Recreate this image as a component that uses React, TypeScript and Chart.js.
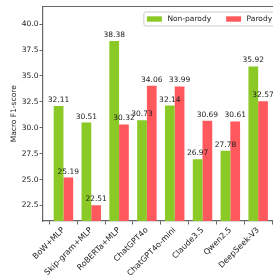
import React, { useEffect, useRef } from "react";
import { Chart, registerables } from "chart.js";

Chart.register(...registerables);

const categories = [
  "BoW+MLP",
  "Skip-gram+MLP",
  "RoBERTa+MLP",
  "ChatGPT4o",
  "ChatGPT4o-mini",
  "Claude3.5",
  "Qwen2.5",
  "DeepSeek-V3",
];
const nonParody = [32.11, 30.51, 38.38, 30.73, 32.14, 26.97, 27.78, 35.92];
const parody = [25.19, 22.51, 30.32, 34.06, 33.99, 30.69, 30.61, 32.57];
const yTicks = [22.5, 25.0, 27.5, 30.0, 32.5, 35.0, 37.5, 40.0];
const yMin = 21.0;
const yMax = 41.71;
const xMin = -0.735;
const xMax = 7.735;

const FONT = "DejaVu Sans";
const SPINE = "#666666";
const TEXT = "#222222";

const valueLabels = {
  id: "valueLabels",
  afterDatasetsDraw(chart: any) {
    const ctx = chart.ctx;
    ctx.save();
    ctx.font = `7.5px "${FONT}"`;
    ctx.fillStyle = TEXT;
    ctx.textAlign = "center";
    ctx.textBaseline = "alphabetic";
    chart.data.datasets.forEach((ds: any, di: number) => {
      const meta = chart.getDatasetMeta(di);
      meta.data.forEach((el: any, i: number) => {
        const v = ds.data[i].y;
        ctx.fillText(v.toFixed(2), el.x, el.y - 4);
      });
    });
    ctx.restore();
  },
};

const legendBox = {
  id: "legendBox",
  afterDraw(chart: any) {
    const ca = chart.chartArea;
    const ctx = chart.ctx;
    // top and right spines
    ctx.save();
    ctx.strokeStyle = SPINE;
    ctx.lineWidth = 1.2;
    ctx.beginPath();
    ctx.moveTo(ca.left, ca.top);
    ctx.lineTo(ca.right, ca.top);
    ctx.lineTo(ca.right, ca.bottom);
    ctx.stroke();
    ctx.restore();

    // legend
    const sw = 15;
    const gapText = 5.5;
    const gapItem = 15;
    const pad = 3;
    ctx.save();
    ctx.font = `7.5px "${FONT}"`;
    const items = chart.data.datasets.map((ds: any) => ({
      label: ds.label,
      color: ds.backgroundColor,
      w: ctx.measureText(ds.label).width,
    }));
    let total = pad * 2;
    items.forEach((it: any, i: number) => {
      total += sw + gapText + it.w + (i > 0 ? gapItem : 0);
    });
    const right = ca.right - 3.5;
    const left = right - total;
    const top = ca.top + 5.5;
    const bottom = ca.top + 19.5;
    ctx.fillStyle = "rgba(255,255,255,0.8)";
    ctx.strokeStyle = "#cccccc";
    ctx.lineWidth = 1;
    ctx.beginPath();
    ctx.roundRect(left, top, right - left, bottom - top, 2);
    ctx.fill();
    ctx.stroke();
    let x = left + pad;
    const cy = (top + bottom) / 2;
    items.forEach((it: any, i: number) => {
      if (i > 0) x += gapItem;
      ctx.fillStyle = it.color;
      ctx.fillRect(x, cy - 2.7, sw, 5.4);
      x += sw + gapText;
      ctx.fillStyle = TEXT;
      ctx.textAlign = "left";
      ctx.textBaseline = "middle";
      ctx.fillText(it.label, x, cy + 0.5);
      x += it.w;
    });
    ctx.restore();
  },
};

export default function App() {
  const ref = useRef<HTMLCanvasElement>(null);
  useEffect(() => {
    if (!ref.current) return;
    Chart.defaults.font.family = FONT;
    const chart = new Chart(ref.current, {
      type: "bar",
      data: {
        datasets: [
          {
            label: "Non-parody",
            data: nonParody.map((y, i) => ({ x: i, y })),
            backgroundColor: "#8ac926",
            borderWidth: 0,
            base: yMin,
          } as any,
          {
            label: "Parody",
            data: parody.map((y, i) => ({ x: i, y })),
            backgroundColor: "#ff595e",
            borderWidth: 0,
            base: yMin,
          } as any,
        ],
      },
      plugins: [valueLabels, legendBox],
      options: {
        animation: false,
        responsive: false,
        devicePixelRatio: 1,
        layout: { padding: { top: 6.5, right: 11.4, left: 0, bottom: 0 } },
        datasets: { bar: { categoryPercentage: 0.7, barPercentage: 1.0 } },
        plugins: {
          tooltip: { enabled: false },
          legend: { display: false },
        },
        scales: {
          x: {
            type: "linear",
            min: xMin,
            max: xMax,
            offset: false,
            afterBuildTicks: (s: any) => {
              s.ticks = categories.map((_, i) => ({ value: i }));
            },
            afterFit: (s: any) => {
              s.height = 59;
            },
            grid: {
              drawOnChartArea: false,
              drawTicks: true,
              tickLength: 3.5,
              color: SPINE,
            },
            border: { display: true, color: SPINE, width: 1.2 },
            ticks: {
              autoSkip: false,
              minRotation: 45,
              maxRotation: 45,
              padding: 1,
              color: TEXT,
              font: { size: 8, family: FONT },
              callback: (v: any) => categories[v as number],
            },
          },
          y: {
            type: "linear",
            min: yMin,
            max: yMax,
            afterBuildTicks: (s: any) => {
              s.ticks = yTicks.map((v) => ({ value: v }));
            },
            afterFit: (s: any) => {
              s.width = 43;
            },
            grid: {
              drawOnChartArea: false,
              drawTicks: true,
              tickLength: 3.5,
              color: SPINE,
            },
            border: { display: true, color: SPINE, width: 1.2 },
            ticks: {
              padding: 1,
              color: TEXT,
              font: { size: 7.5, family: FONT },
              callback: (v: any) => Number(v).toFixed(1),
            },
            title: {
              display: true,
              text: "Macro F1-score",
              color: TEXT,
              font: { size: 7.5, family: FONT },
              padding: { top: 9.5, bottom: 0 },
            },
          },
        },
      },
    });
    return () => chart.destroy();
  }, []);
  return (
    <div
      style={{
        position: "fixed",
        left: 0,
        top: 0,
        width: 273,
        height: 280,
        overflow: "hidden",
        background: "#fff",
      }}
    >
      <canvas ref={ref} width={290} height={280} style={{ display: "block" }} />
    </div>
  );
}
